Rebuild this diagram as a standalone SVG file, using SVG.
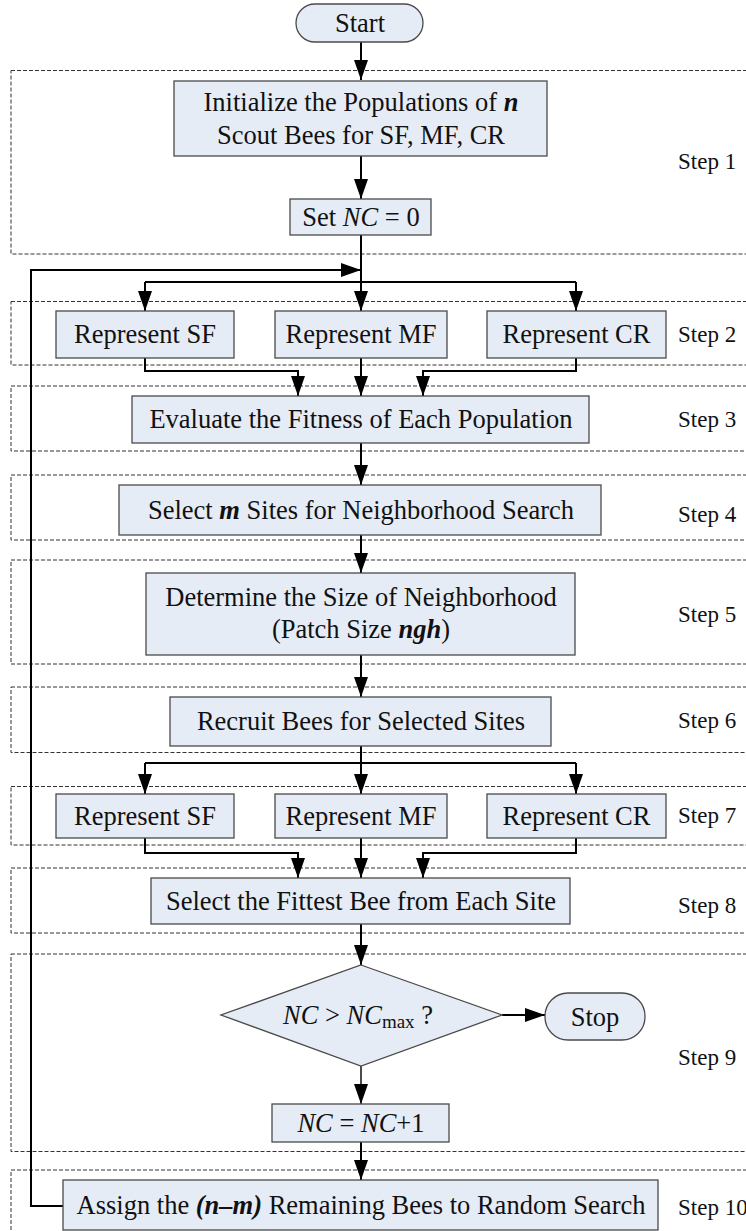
<svg xmlns="http://www.w3.org/2000/svg" width="746" height="1231" viewBox="0 0 746 1231">
<style>
  .box { fill: #E6ECF6; stroke: #4a4a4a; stroke-width: 1.3; }
  .step { fill: none; stroke: #333; stroke-width: 1; stroke-dasharray: 4 2; }
  .t { font-size: 26.5px; fill: #111; text-anchor: middle; }
  .lbl { font-size: 23px; fill: #111; }
  .bi { font-weight: bold; font-style: italic; }
  .i { font-style: italic; }
  .c { fill: none; stroke: #000; stroke-width: 2; }
  .c1 { fill: none; stroke: #000; stroke-width: 1.4; }
</style>
<defs>
  <marker id="ah" markerUnits="userSpaceOnUse" markerWidth="20" markerHeight="14" refX="20" refY="7" orient="auto">
    <path d="M0,0 L20,7 L0,14 z" fill="#000"/>
  </marker>
</defs>
<rect width="746" height="1231" fill="#fff"/>
<g font-family="'Liberation Serif', 'DejaVu Serif', serif">
<g id="steps">
  <rect class="step" x="11" y="70.5" width="760" height="183.5"/>
  <rect class="step" x="11" y="301.5" width="760" height="63.5"/>
  <rect class="step" x="11" y="386" width="760" height="65"/>
  <rect class="step" x="11" y="475" width="760" height="65"/>
  <rect class="step" x="11" y="560" width="760" height="104"/>
  <rect class="step" x="11" y="687" width="760" height="65.5"/>
  <rect class="step" x="11" y="786.5" width="760" height="58.5"/>
  <rect class="step" x="11" y="868" width="760" height="65"/>
  <rect class="step" x="11" y="954" width="760" height="197.5"/>
  <rect class="step" x="11" y="1170" width="760" height="80"/>
  <text class="lbl" x="678" y="169">Step 1</text>
  <text class="lbl" x="678" y="342">Step 2</text>
  <text class="lbl" x="678" y="427">Step 3</text>
  <text class="lbl" x="678" y="522">Step 4</text>
  <text class="lbl" x="678" y="622">Step 5</text>
  <text class="lbl" x="678" y="728">Step 6</text>
  <text class="lbl" x="678" y="823">Step 7</text>
  <text class="lbl" x="678" y="913">Step 8</text>
  <text class="lbl" x="678" y="1065">Step 9</text>
  <text class="lbl" x="678" y="1215">Step 10</text>
</g>

<g id="connectors">
  <path class="c" d="M361,42 V80" marker-end="url(#ah)"/>
  <path class="c" d="M361,156 V199" marker-end="url(#ah)"/>
  <path class="c" d="M361,235 V282"/>
  <path class="c" d="M63,1206 H31 V270 H361" marker-end="url(#ah)"/>
  <path class="c" d="M145,282 H576"/>
  <path class="c" d="M145,282 V311" marker-end="url(#ah)"/>
  <path class="c" d="M361,282 V311" marker-end="url(#ah)"/>
  <path class="c" d="M576,282 V311" marker-end="url(#ah)"/>
  <path class="c" d="M145,358 V371 H298 V396" marker-end="url(#ah)"/>
  <path class="c" d="M361,358 V396" marker-end="url(#ah)"/>
  <path class="c" d="M576,358 V371 H423 V396" marker-end="url(#ah)"/>
  <path class="c" d="M361,443 V485" marker-end="url(#ah)"/>
  <path class="c" d="M361,535 V573" marker-end="url(#ah)"/>
  <path class="c" d="M361,655 V697" marker-end="url(#ah)"/>
  <path class="c" d="M361,746 V763"/>
  <path class="c" d="M145,763 H576"/>
  <path class="c" d="M145,763 V794" marker-end="url(#ah)"/>
  <path class="c" d="M361,763 V794" marker-end="url(#ah)"/>
  <path class="c" d="M576,763 V794" marker-end="url(#ah)"/>
  <path class="c" d="M145,838 V853 H298 V878" marker-end="url(#ah)"/>
  <path class="c" d="M361,838 V878" marker-end="url(#ah)"/>
  <path class="c" d="M576,838 V853 H423 V878" marker-end="url(#ah)"/>
  <path class="c" d="M361,924 V965" marker-end="url(#ah)"/>
  <path class="c" d="M502,1015 H545" marker-end="url(#ah)"/>
  <path class="c1" d="M361,1066 V1104" marker-end="url(#ah)"/>
  <path class="c" d="M361,1142 V1180" marker-end="url(#ah)"/>
</g>

<g id="start">
  <rect class="box" x="296" y="4" width="127" height="38" rx="19" ry="19"/>
  <text class="t" x="360" y="32">Start</text>
</g>
<g id="init">
  <rect class="box" x="174" y="81" width="373" height="75"/>
  <text class="t" x="361" y="111">Initialize the Populations of <tspan class="bi">n</tspan></text>
  <text class="t" x="361" y="144">Scout Bees for SF, MF, CR</text>
</g>
<g id="setnc">
  <rect class="box" x="290" y="199" width="141" height="36"/>
  <text class="t" x="361" y="226">Set <tspan class="i">NC</tspan> = 0</text>
</g>
<g id="rep-sf-1">
  <rect class="box" x="56" y="311" width="178" height="47"/>
  <text class="t" x="145" y="343">Represent SF</text>
</g>
<g id="rep-mf-1">
  <rect class="box" x="275" y="311" width="172" height="47"/>
  <text class="t" x="361" y="343">Represent MF</text>
</g>
<g id="rep-cr-1">
  <rect class="box" x="487" y="311" width="179" height="47"/>
  <text class="t" x="576.5" y="343">Represent CR</text>
</g>
<g id="evaluate">
  <rect class="box" x="132" y="396" width="457" height="47"/>
  <text class="t" x="361" y="428">Evaluate the Fitness of Each Population</text>
</g>
<g id="select-m">
  <rect class="box" x="119" y="485" width="482" height="50"/>
  <text class="t" x="361" y="519">Select <tspan class="bi">m</tspan> Sites for Neighborhood Search</text>
</g>
<g id="determine">
  <rect class="box" x="146" y="573" width="429" height="82"/>
  <text class="t" x="361" y="606">Determine the Size of Neighborhood</text>
  <text class="t" x="361" y="638">(Patch Size <tspan class="bi">ngh</tspan>)</text>
</g>
<g id="recruit">
  <rect class="box" x="170" y="697" width="381" height="49"/>
  <text class="t" x="361" y="730">Recruit Bees for Selected Sites</text>
</g>
<g id="rep-sf-2">
  <rect class="box" x="56" y="794" width="178" height="44"/>
  <text class="t" x="145" y="825">Represent SF</text>
</g>
<g id="rep-mf-2">
  <rect class="box" x="275" y="794" width="172" height="44"/>
  <text class="t" x="361" y="825">Represent MF</text>
</g>
<g id="rep-cr-2">
  <rect class="box" x="487" y="794" width="179" height="44"/>
  <text class="t" x="576.5" y="825">Represent CR</text>
</g>
<g id="fittest">
  <rect class="box" x="151" y="878" width="419" height="46"/>
  <text class="t" x="361" y="910">Select the Fittest Bee from Each Site</text>
</g>
<g id="decision">
  <polygon class="box" points="361,965 502,1015 361,1066 221,1015"/>
  <text class="t" x="358" y="1024"><tspan class="i">NC</tspan> &gt; <tspan class="i">NC</tspan><tspan font-size="19" dy="4">max</tspan><tspan dy="-4"> ?</tspan></text>
</g>
<g id="stop">
  <rect class="box" x="545" y="993" width="100" height="47" rx="23" ry="23"/>
  <text class="t" x="595" y="1026">Stop</text>
</g>
<g id="increment">
  <rect class="box" x="272" y="1104" width="177" height="38"/>
  <text class="t" x="361" y="1132"><tspan class="i">NC</tspan> = <tspan class="i">NC</tspan>+1</text>
</g>
<g id="assign">
  <rect class="box" x="63" y="1180" width="595" height="50"/>
  <text class="t" x="361" y="1214">Assign the <tspan class="bi">(n–m)</tspan> Remaining Bees to Random Search</text>
</g>
</g>
</svg>
